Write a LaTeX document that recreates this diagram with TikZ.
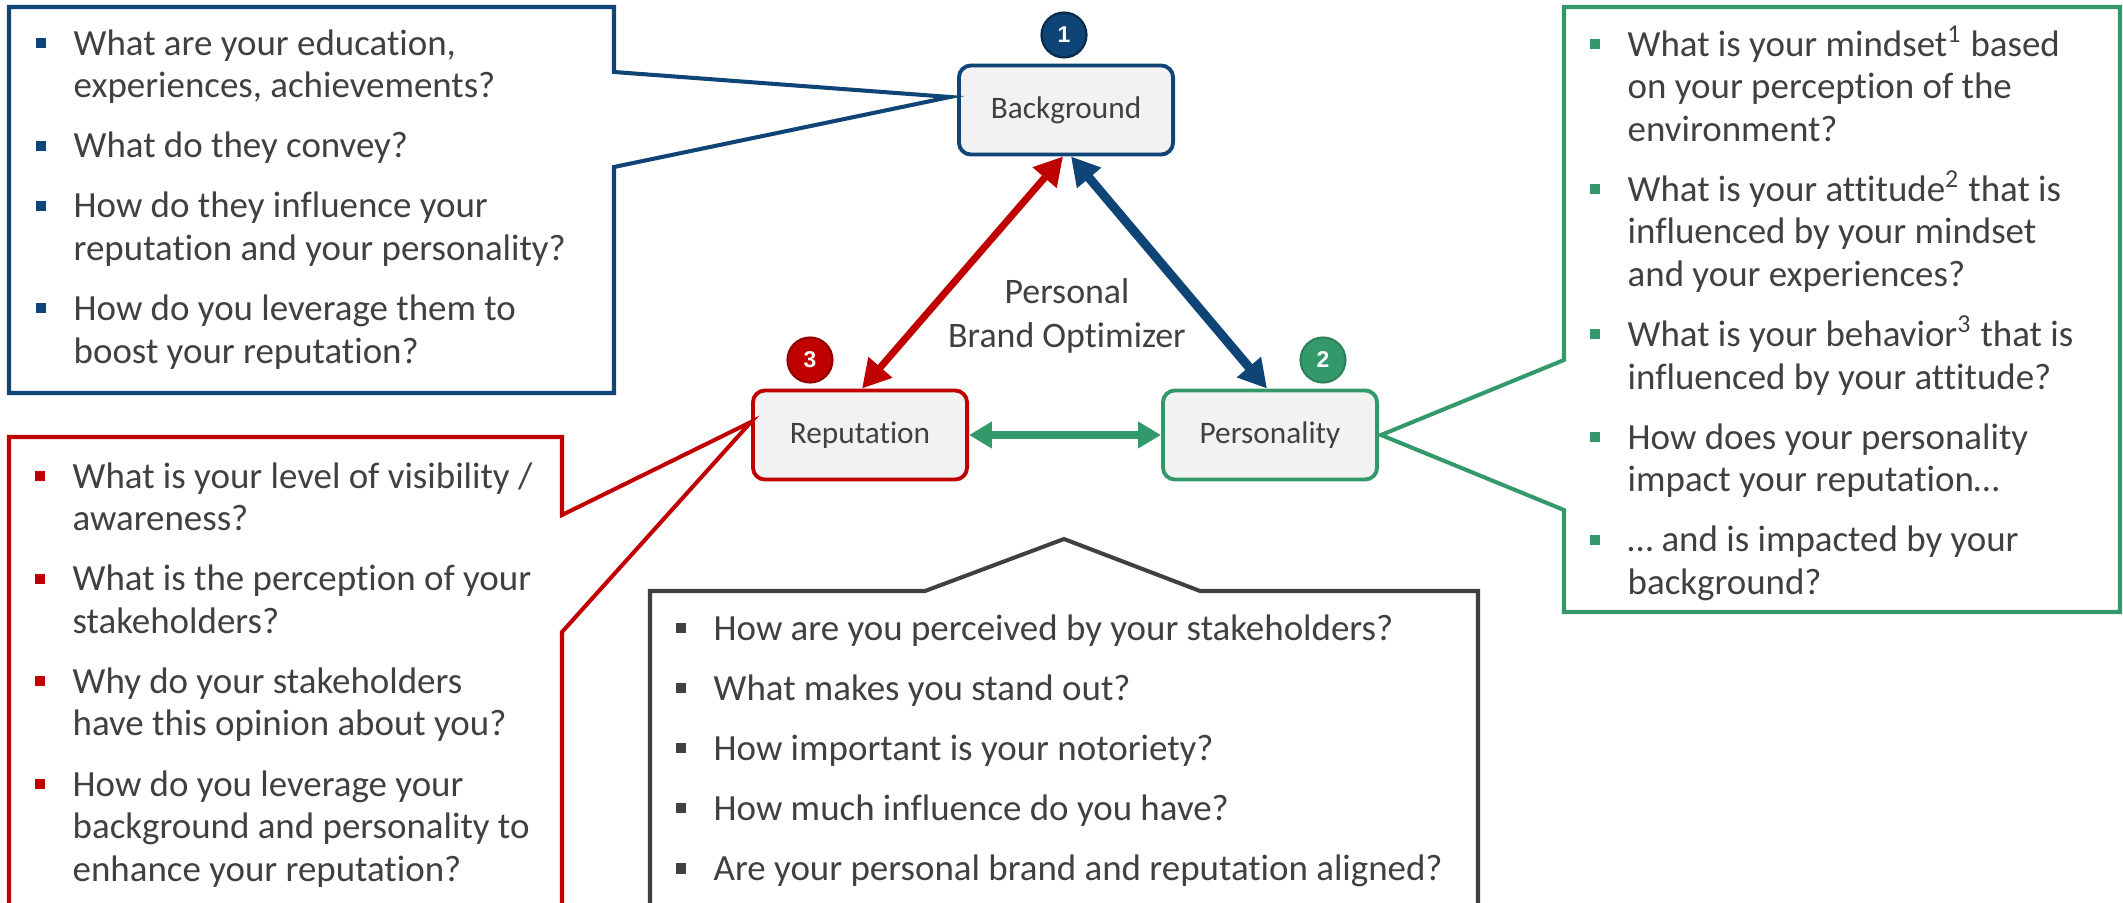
\documentclass[tikz,border=0pt]{standalone}
\usepackage{fontspec}
\setmainfont{Carlito}[Ligatures=CommonOff]
\newfontfamily\numfont{Liberation Sans}
\usetikzlibrary{arrows.meta}
\definecolor{cblue}{HTML}{0E4476}
\definecolor{cred}{HTML}{C00000}
\definecolor{cgreen}{HTML}{34996A}
\definecolor{cgray}{HTML}{404040}
\definecolor{ctext}{HTML}{404040}
\definecolor{cfill}{HTML}{F2F2F2}
\newcommand\bitem[2]{\par\hangindent=10.8pt\hangafter=1\noindent\makebox[10.8pt][l]{\textcolor{#1}{\rule[2pt]{2.85pt}{2.85pt}}}#2}
\newcommand\qbox[2]{\begin{minipage}[t]{#1}\setlength\parskip{5pt}#2\end{minipage}}
\begin{document}
\begin{tikzpicture}[x=0.01cm, y=-0.01cm,
  box/.style={draw, rounded corners=3.4pt, fill=cfill, line width=1.1pt, minimum width=2.14cm, minimum height=0.89cm, inner sep=0, font=\fontsize{8.9}{10}\selectfont, text=ctext},
  num/.style={circle, minimum size=0.45cm, inner sep=0, line width=0.6pt, text=white, font=\numfont\bfseries\fontsize{6.5}{7}\selectfont},
  callout/.style={line width=1.15pt, line join=miter},
  qtext/.style={anchor=base west, inner sep=0, text=ctext, font=\fontsize{10.5}{12.1}\selectfont},
  arr/.style={{Triangle[length=8pt,width=8.5pt]}-{Triangle[length=8pt,width=8.5pt]}},
  garr/.style={{Triangle[length=6.5pt,width=7.2pt]}-{Triangle[length=6.5pt,width=7.2pt]}}]
\useasboundingbox (0,0) rectangle (2123,903);
\clip (0,0) rectangle (2123,903);

% central nodes
\node[box, draw=cblue] (bg) at (1066,110) {Background};
\node[box, draw=cred] (rep) at (860,435) {Reputation};
\node[box, draw=cgreen] (pers) at (1270,435) {Personality};
\node[num, fill=cblue, draw=cblue!60!black] (n1) at (1064,35) {1};
\node[num, fill=cgreen, draw=cgreen!85!black] (n2) at (1323,360) {2};
\node[num, fill=cred, draw=cred!75!black] (n3) at (810,360) {3};
\node[font=\fontsize{10.2}{12.5}\selectfont, align=center, text=ctext, inner sep=0] (pbo) at (1067,316) {Personal\\Brand Optimizer};

% connectors
\draw[arr, cred, line width=2pt] ([xshift=0.02cm]rep.north) -- ([xshift=-0.03cm]bg.south);
\draw[arr, cblue, line width=2.6pt] ([xshift=0.05cm]bg.south) -- ([xshift=-0.03cm]pers.north);
\draw[garr, cgreen, line width=2.3pt] (rep.east) -- (pers.west);

% callout tips
\coordinate (tb) at (950,97);
\coordinate (tr) at (751,422);
\coordinate (tg) at (1381,435);
\coordinate (tk) at (1064,539);

% callouts
\draw[callout, cblue] (9,7) -- (614,7) -- (614,72) -- (tb) -- (614,167) -- (614,393) -- (9,393) -- cycle;
\draw[callout, cred] (9,930) -- (9,437) -- (562,437) -- (562,515) -- (tr) -- (562,632) -- (562,930);
\draw[callout, cgreen] (1564,7) -- (2120,7) -- (2120,612) -- (1564,612) -- (1564,510) -- (tg) -- (1564,360) -- cycle;
\draw[callout, cgray] (650,930) -- (650,591) -- (925,591) -- (tk) -- (1200,591) -- (1478,591) -- (1478,930);

% texts
\node[qtext] (bq) at (35,55) {\qbox{7cm}{%
\bitem{cblue}{What are your education,\\experiences, achievements?}
\bitem{cblue}{What do they convey?}
\bitem{cblue}{How do they influence your\\reputation and your personality?}
\bitem{cblue}{How do you leverage them to\\boost your reputation?}}};

\node[qtext] (rq) at (34,488) {\qbox{7cm}{%
\bitem{cred}{What is your level of visibility /\\awareness?}
\bitem{cred}{What is the perception of your\\stakeholders?}
\bitem{cred}{Why do your stakeholders\\have this opinion about you?}
\bitem{cred}{How do you leverage your\\background and personality to\\enhance your reputation?}}};

\node[qtext] (gq) at (1589,56) {\qbox{7cm}{%
\bitem{cgreen}{What is your mindset\textsuperscript{1} based\\on your perception of the\\environment?}
\bitem{cgreen}{What is your attitude\textsuperscript{2} that is\\influenced by your mindset\\and your experiences?}
\bitem{cgreen}{What is your behavior\textsuperscript{3} that is\\influenced by your attitude?}
\bitem{cgreen}{How does your personality\\impact your reputation…}
\bitem{cgreen}{… and is impacted by your\\background?}}};

\node[qtext] (kq) at (675,640) {\qbox{9cm}{%
\bitem{cgray}{How are you perceived by your stakeholders?}
\bitem{cgray}{What makes you stand out?}
\bitem{cgray}{How important is your notoriety?}
\bitem{cgray}{How much influence do you have?}
\bitem{cgray}{Are your personal brand and reputation aligned?}}};
\end{tikzpicture}
\end{document}
